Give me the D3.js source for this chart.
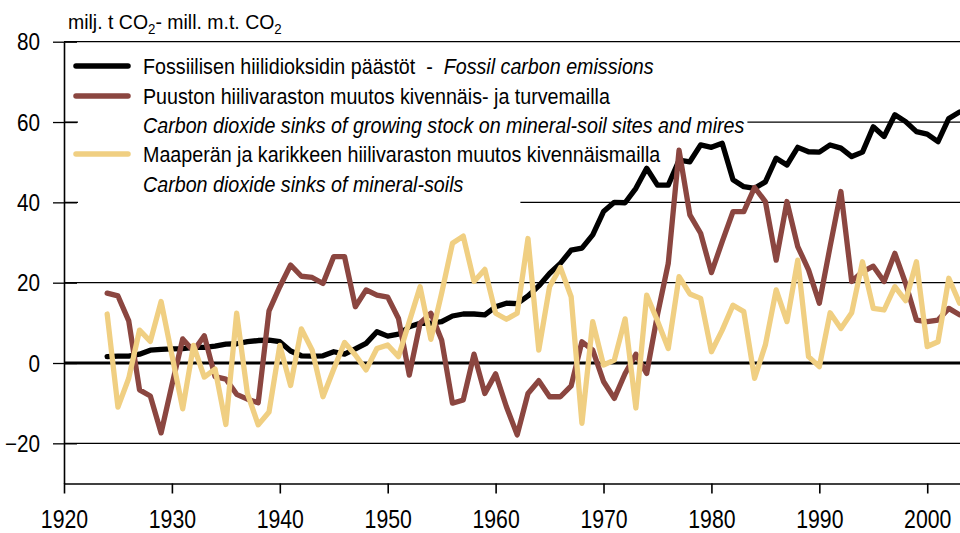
<!DOCTYPE html>
<html>
<head>
<meta charset="utf-8">
<script src="https://cdn.jsdelivr.net/npm/d3@7"></script>
<style>
  body { margin: 0; background: #fff; }
  svg text { font-family: "Liberation Sans", Arial, sans-serif; fill: #000; white-space: pre; }
</style>
</head>
<body>
<div id="chart"></div>
<script>
const years = d3.range(1924, 2004);

// fossiilinen hiilidioksidi, milj. t CO2
const fossil = [
  1.6, 1.7, 1.7, 2.2, 3.2, 3.4, 3.5, 3.6, 3.9, 3.9,
  4.2, 4.7, 4.8, 5.3, 5.6, 5.7, 5.3, 3.0, 1.8, 1.7,
  1.8, 2.8, 2.2, 3.5, 4.9, 7.8, 6.7, 7.2, 9.0, 9.9,
  9.9, 10.3, 11.7, 12.2, 12.2, 12.0, 14.0, 14.9, 14.8, 16.7,
  19.2, 22.3, 24.8, 28.1, 28.6, 31.9, 37.7, 40.0, 39.9, 43.5,
  48.5, 44.3, 44.3, 50.5, 50.1, 54.3, 53.7, 54.7, 45.6, 43.9,
  43.5, 45.1, 51.0, 49.3, 53.7, 52.6, 52.5, 54.3, 53.5, 51.4,
  52.5, 58.8, 56.4, 61.8, 60.1, 57.6, 57.0, 55.1, 60.9, 62.5
];

// puuston hiilivaraston muutos
const stock = [
  17.4, 16.7, 10.5, -6.7, -8.2, -17.4, -5.5, 6.0, 3.0, 6.8,
  -3.4, -4.0, -7.8, -9.0, -9.9, 13.0, 19.0, 24.4, 21.6, 21.3,
  19.8, 26.5, 26.5, 14.0, 18.2, 16.9, 16.4, 11.1, -3.0, 9.9,
  12.4, 5.7, -10.0, -9.2, 2.2, -7.6, -2.7, -10.9, -17.9, -7.6,
  -4.4, -8.4, -8.4, -5.7, 5.3, 3.2, -4.6, -8.8, -2.6, 2.2,
  -2.6, 12.0, 24.8, 53.0, 36.9, 32.3, 22.5, 30.2, 37.7, 37.7,
  43.7, 40.2, 25.6, 40.2, 29.0, 23.2, 14.9, 29.0, 42.7, 20.3,
  22.7, 24.1, 20.3, 27.3, 19.8, 10.7, 10.3, 10.7, 13.6, 12.0
];

// maaperän ja karikkeen hiilivaraston muutos
const soil = [
  12.2, -11.0, -3.8, 8.2, 5.4, 15.3, 2.0, -11.4, 4.4, -3.5,
  -1.5, -15.3, 12.4, -7.6, -15.4, -12.2, 4.4, -5.6, 8.5, 3.2,
  -8.4, -1.5, 5.1, 2.0, -1.7, 3.6, 4.5, 1.6, 10.3, 19.0,
  5.9, 17.4, 29.8, 31.6, 20.3, 23.3, 12.4, 10.9, 12.4, 31.0,
  3.2, 19.0, 23.8, 16.5, -15.0, 10.3, -0.5, 0.7, 11.0, -11.2,
  16.9, 10.5, 3.6, 21.5, 17.2, 16.1, 2.8, 8.2, 14.4, 12.8,
  -3.8, 4.5, 18.2, 10.3, 25.6, 1.6, -0.9, 12.5, 8.6, 12.5,
  25.2, 13.6, 13.2, 19.0, 15.5, 25.2, 4.1, 5.3, 21.1, 14.9
];

const xTicks = [1920, 1930, 1940, 1950, 1960, 1970, 1980, 1990, 2000];
const yTicks = [-20, 0, 20, 40, 60, 80];

const series = [
  { values: fossil, color: "#000000" },
  { values: stock, color: "#8b4640" },
  { values: soil, color: "#f0cf82" }
];

const legendRows = [
  { color: "#000000", parts: [["Fossiilisen hiilidioksidin päästöt  -  ", false], ["Fossil carbon emissions", true]] },
  { color: "#8b4640", parts: [["Puuston hiilivaraston muutos kivennäis- ja turvemailla", false]] },
  { color: null, parts: [["Carbon dioxide sinks of growing stock on mineral-soil sites and mires", true]] },
  { color: "#f0cf82", parts: [["Maaperän ja karikkeen hiilivaraston muutos kivennäismailla", false]] },
  { color: null, parts: [["Carbon dioxide sinks of mineral-soils", true]], extra: 54 }
];

const width = 960, height = 533;
const narrow = 0.895; // kapea fontti (Arial Narrow tyyppinen)

const svg = d3.select("#chart").append("svg")
  .attr("width", width)
  .attr("height", height);

const x = d3.scaleLinear().domain([1920, 2003]).range([64, 959.6]);
const y = d3.scaleLinear().domain([-30, 80]).range([483.5, 41.7]);

svg.append("clipPath").attr("id", "plot")
  .append("rect")
  .attr("x", 64).attr("y", 0)
  .attr("width", width - 64).attr("height", 483.5);

// vaakaviivat
svg.append("g")
  .selectAll("line")
  .data(yTicks.filter((d) => d !== 0))
  .enter()
  .append("line")
  .attr("x1", x(1920))
  .attr("x2", width)
  .attr("y1", (d) => y(d))
  .attr("y2", (d) => y(d))
  .attr("stroke", "#000")
  .attr("stroke-width", 1.3);

// selite valkoisella taustalla
const legend = svg.append("g");
const rowY = [66, 96, 125, 154, 184];
legendRows.forEach((row, i) => {
  const bg = legend.append("rect").attr("fill", "#fff");
  const t = legend.append("text")
    .attr("transform", `translate(143,${rowY[i]}) scale(${narrow},1)`)
    .attr("dy", "0.35em")
    .style("font-size", "22px");
  row.parts.forEach(([txt, it]) => {
    t.append("tspan").text(txt).style("font-style", it ? "italic" : "normal");
  });
  const w = t.node().getComputedTextLength() * narrow;
  bg.attr("x", 78)
    .attr("y", rowY[i] - 13)
    .attr("width", 143 - 78 + w + 3 + (row.extra || 0))
    .attr("height", row.extra ? 40 : 27);
  if (row.color) {
    legend.append("line")
      .attr("x1", 76).attr("x2", 128)
      .attr("y1", rowY[i]).attr("y2", rowY[i])
      .attr("stroke", row.color)
      .attr("stroke-width", 5.5)
      .attr("stroke-linecap", "round");
  }
});

// akselit
const yAxis = svg.append("g")
  .attr("transform", `translate(${x(1920)},0)`)
  .call(d3.axisLeft(y).tickValues(yTicks).tickSizeInner(11).tickSizeOuter(0));
yAxis.select(".domain").attr("stroke", "#000").attr("stroke-width", 1.6);
yAxis.selectAll(".tick line").attr("x2", 13).attr("x1", -11).attr("stroke-width", 1.3);
yAxis.selectAll(".tick text")
  .style("font-size", "23px")
  .attr("x", -24 / 0.9)
  .attr("dy", "0.36em")
  .attr("transform", "scale(0.9,1)");

const xAxis = svg.append("g")
  .attr("transform", `translate(0,${y(-30)})`)
  .call(d3.axisBottom(x).tickValues(xTicks).tickFormat(d3.format("d")).tickSizeInner(10).tickSizeOuter(0).tickPadding(17));
xAxis.select(".domain").attr("stroke", "#000").attr("stroke-width", 1.6);
xAxis.selectAll(".tick line").attr("stroke-width", 1.6);
xAxis.selectAll(".tick text")
  .style("font-size", "25px")
  .attr("transform", "scale(0.85,1)");

// nollaviiva
svg.append("line")
  .attr("x1", x(1920)).attr("x2", width)
  .attr("y1", y(0)).attr("y2", y(0))
  .attr("stroke", "#000")
  .attr("stroke-width", 3.2);

const line = d3.line()
  .x((d, i) => x(years[i]))
  .y((d) => y(d));

svg.append("g")
  .attr("clip-path", "url(#plot)")
  .selectAll("path")
  .data(series)
  .enter()
  .append("path")
  .attr("d", (d) => line(d.values))
  .attr("fill", "none")
  .attr("stroke", (d) => d.color)
  .attr("stroke-width", 5.3)
  .attr("stroke-linejoin", "round")
  .attr("stroke-linecap", "round");

// yksikkö
const unit = svg.append("text")
  .attr("transform", `translate(68,29) scale(0.95,1)`)
  .style("font-size", "20.5px");
unit.append("tspan").text("milj. t CO");
unit.append("tspan").text("2").attr("dy", 5).style("font-size", "14px");
unit.append("tspan").text("- mill. m.t. CO").attr("dy", -5);
unit.append("tspan").text("2").attr("dy", 5).style("font-size", "14px");
</script>
</body>
</html>
